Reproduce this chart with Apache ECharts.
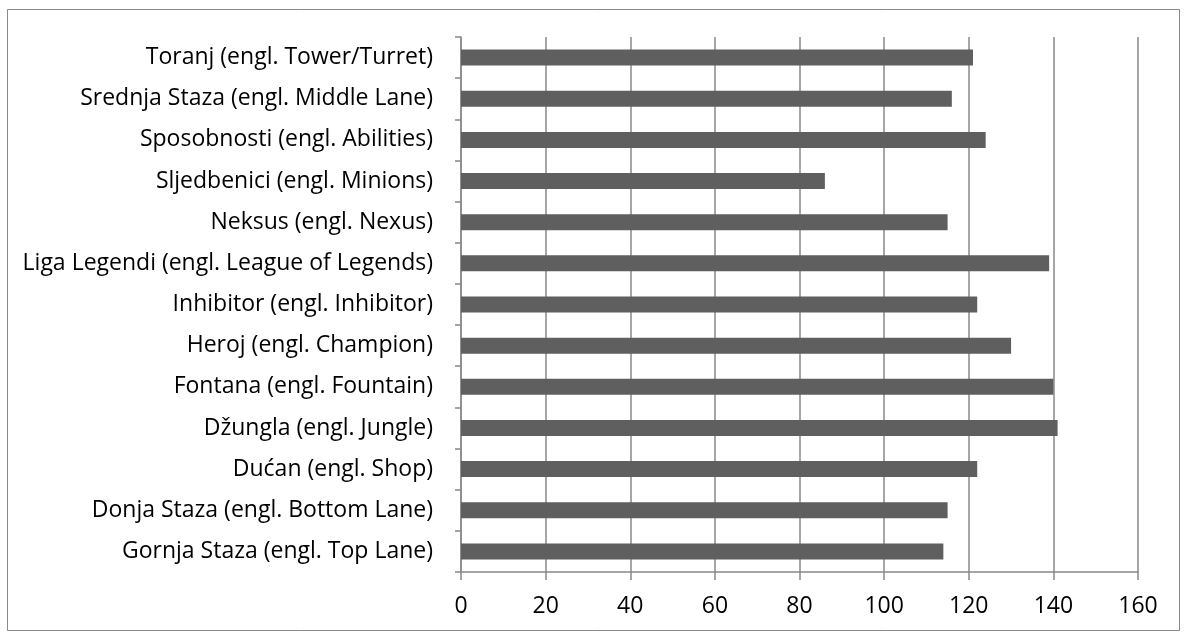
<!DOCTYPE html>
<html><head><meta charset="utf-8">
<script src="https://cdn.jsdelivr.net/npm/echarts@6/dist/echarts.min.js"></script>
<style>html,body{margin:0;padding:0;background:#fff}#c{width:1184px;height:635px}</style>
</head><body><div id="c"></div>
<script>
const categories = [
  "Gornja Staza (engl. Top Lane)",
  "Donja Staza (engl. Bottom Lane)",
  "Dućan (engl. Shop)",
  "Džungla (engl. Jungle)",
  "Fontana (engl. Fountain)",
  "Heroj (engl. Champion)",
  "Inhibitor (engl. Inhibitor)",
  "Liga Legendi (engl. League of Legends)",
  "Neksus (engl. Nexus)",
  "Sljedbenici (engl. Minions)",
  "Sposobnosti (engl. Abilities)",
  "Srednja Staza (engl. Middle Lane)",
  "Toranj (engl. Tower/Turret)"
];
const values = [114, 115, 122, 141, 140, 130, 122, 139, 115, 86, 124, 116, 121];
const xTicks = [0, 20, 40, 60, 80, 100, 120, 140, 160];

const chart = echarts.init(document.getElementById('c'));
const font = "'Open Sans', 'Noto Sans', sans-serif";
chart.setOption({
  animation: false,
  backgroundColor: '#fff',
  graphic: [{
    type: 'rect', left: 5, top: 7,
    shape: { width: 1172, height: 621 },
    style: { fill: 'none', stroke: '#888', lineWidth: 1 }
  }],
  grid: { left: 461, right: 46, top: 37, bottom: 63, containLabel: false },
  xAxis: {
    type: 'value', min: xTicks[0], max: xTicks[xTicks.length - 1], interval: 20,
    axisLine: { show: true, lineStyle: { color: '#888', width: 1.5 } },
    axisTick: { show: true, length: 8, lineStyle: { color: '#888', width: 1.5 } },
    axisLabel: { color: '#000', fontSize: 23, fontFamily: font, margin: 23 },
    splitLine: { show: true, lineStyle: { color: '#888', width: 1.5 } }
  },
  yAxis: {
    type: 'category', data: categories,
    axisLine: { show: true, lineStyle: { color: '#888', width: 1.5 } },
    axisTick: { show: true, length: 6, lineStyle: { color: '#888', width: 1.5 } },
    axisLabel: { color: '#000', fontSize: 23, fontFamily: font, margin: 28 },
    splitLine: { show: false }
  },
  series: [{
    type: 'bar', data: values, barWidth: 16,
    itemStyle: { color: '#5f5f5f' }
  }]
});
</script></body></html>
